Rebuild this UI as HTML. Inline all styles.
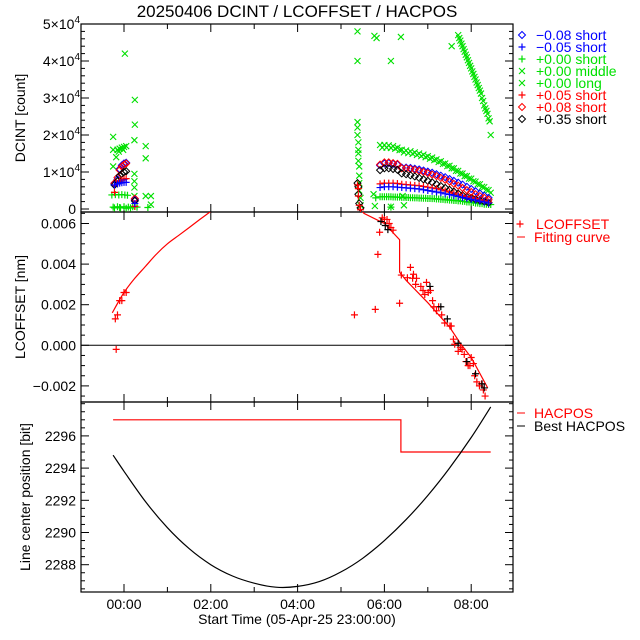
<!DOCTYPE html>
<html><head><meta charset="utf-8">
<style>
html,body{margin:0;padding:0;background:#fff;}
svg{display:block;font-family:"Liberation Sans",sans-serif;}
</style></head>
<body>
<svg id="chart" width="640" height="640" viewBox="0 0 640 640" xmlns="http://www.w3.org/2000/svg">
<defs>
<clipPath id="cTop"><rect x="81" y="24" width="432" height="188"/></clipPath>
<clipPath id="cMid"><rect x="81" y="212" width="432" height="190"/></clipPath>
<clipPath id="cBot"><rect x="81" y="402" width="432" height="190"/></clipPath>
</defs>
<text x="297" y="17" font-size="17" text-anchor="middle">20250406 DCINT / LCOFFSET / HACPOS</text>
<g id="axes"></g>
<g id="marks"></g>
<text x="297" y="624" font-size="14" text-anchor="middle">Start Time (05-Apr-25 23:00:00)</text>
<text transform="translate(25,118) rotate(-90)" font-size="14" text-anchor="middle">DCINT [count]</text>
<text transform="translate(25,307) rotate(-90)" font-size="14" text-anchor="middle">LCOFFSET [nm]</text>
<text transform="translate(30,497) rotate(-90)" font-size="14" text-anchor="middle">Line center position [bit]</text>
<g id="legend" font-size="14"></g>
</svg>
<script>
// ---------- data ----------
const xTickHours = [0,2,4,6,8];
const xTickLabels = ["00:00","02:00","04:00","06:00","08:00"];
const topTicks = [0,10000,20000,30000,40000,50000];
const topTickLabels = ["0","1","2","3","4","5"];
const midTicks = [-0.002,0,0.002,0.004,0.006];
const midTickLabels = ["\u22120.002","0.000","0.002","0.004","0.006"];
const botTicks = [2288,2290,2292,2294,2296];
const botTickLabels = ["2288","2290","2292","2294","2296"];

const bandT = [5.9,6.0,6.1,6.2,6.3,6.4,6.5,6.6,6.7,6.8,6.9,7.0,7.1,7.2,7.3,7.4,7.5,7.6,7.7,7.8,7.9,8.0,8.1,8.2,8.3,8.4];
const greenMiddleV = [17300,17300,17200,17000,16600,16000,15800,15600,15300,15000,14700,14300,13900,13400,12900,12300,11700,11000,10300,9600,8900,8200,7400,6700,5900,5100];
const greenShortV = [3300,3300,3300,3250,3200,3150,3100,3050,3000,2950,2900,2850,2800,2700,2600,2500,2400,2300,2200,2050,1900,1750,1600,1450,1300,1200];
const redDiamondV = [12000,12600,12600,12400,12200,11000,11000,10800,10600,10300,10000,9700,9300,8900,8400,7900,7400,6800,6300,5700,5100,4600,4000,3500,3000,2500];
const blueDiamondV = [11800,12300,12400,12200,12000,11200,11200,11100,10900,10700,10400,10100,9800,9400,9000,8600,8100,7600,7100,6600,6000,5400,4800,4200,3600,3000];
const blackDiamondV = [10500,11000,11000,10800,10600,9600,9400,9100,8800,8400,8000,7600,7200,6700,6200,5700,5200,4700,4200,3700,3300,2900,2600,2300,2000,1700];
const redPlusV = [6800,7000,7000,7000,6900,6700,6600,6500,6400,6300,6100,5900,5700,5500,5200,4900,4600,4300,4000,3700,3400,3100,2800,2500,2200,1900];
const bluePlusV = [5800,6000,6000,6000,5900,5800,5700,5600,5500,5400,5200,5000,4800,4600,4400,4100,3900,3600,3400,3100,2900,2600,2400,2100,1900,1600];

const longT = [7.70,7.75,7.80,7.85,7.90,7.95,8.00,8.05,8.10,8.15,8.20,8.25,8.30,8.35,8.40];
const longV = [47000,45500,44000,42500,41000,39500,38000,36500,35000,33500,32000,30000,28000,26500,24500];

const spikeT = [5.38,5.38,5.38,5.38,5.38,5.40,5.40,5.40,5.40,5.42,5.42,5.42,5.42,5.45,5.45];
const spikeV = [48000,40000,23500,22000,20000,18000,16000,15000,13000,11500,9000,7000,5000,3000,1000];
const greenXOutT = [5.77,5.82,6.38,6.15,7.55,8.45,5.75,5.78,6.15,6.42,6.45,-0.25,0.02,0.25,0.25,0.24,0.5,0.5,0.5,0.62,0.62,-0.25,-0.25,-0.18,0.24,0.24,0.24,0.24,-0.15,-0.1,-0.05,0,0.05,-0.12,-0.02];
const greenXOutV = [46800,46200,46500,40000,44000,20000,4000,800,600,3500,1000,19500,42000,29500,22800,18600,17000,13700,3500,3500,1200,11500,16000,14000,9500,7500,5800,3500,16000,16300,16600,16800,17000,15500,16000];
const greenPlusOutT = [6.15,5.8,-0.28,-0.2,-0.12,-0.05,0.02,0.08,-0.25,-0.1,0,0.1,0.25,0.3,0.55,-0.22,-0.15,-0.08,0.05,0.15,0.2];
const greenPlusOutV = [500,3000,3800,3900,3800,3900,3800,3700,500,400,600,500,700,500,400,300,600,300,200,300,600];
const leftT = [-0.22,-0.15,-0.1,-0.05,0,0.05,0.25];
const leftRedDV = [7000,8500,10500,11500,12000,12300,2800];
const leftBlueDV = [6800,8000,10800,11800,12300,12500,2500];
const leftBlackDV = [6500,7500,9000,9500,10000,10200,2200];
const leftRedPV = [4500,6800,7500,7800,8000,8200,700];
const leftBluePV = [6500,6800,7000,7100,7200,7200,1500];
const spikeDT = [5.38,5.40,5.40,5.42,5.45];
const spikeDV = [7000,6000,4000,1500,300];

const lcT = [-0.2,-0.15,-0.18,-0.1,-0.05,0,0.05,5.31,5.79,5.85,5.89,5.95,6.0,6.06,6.11,6.15,6.2,6.35,6.39,6.53,6.6,6.65,6.67,6.74,6.72,6.84,6.89,6.93,6.97,7.01,7.06,7.11,7.14,7.2,7.25,7.32,7.39,7.51,7.54,7.59,7.62,7.7,7.75,7.79,7.84,7.88,7.93,7.97,8.0,8.05,8.08,8.13,8.19,8.24,8.28,8.32];
const lcV = [0.0013,0.0015,-0.0002,0.0022,0.0022,0.0026,0.0026,0.0015,0.00177,0.00448,0.00557,0.00628,0.0062,0.0062,0.006,0.0058,0.00567,0.00207,0.00346,0.00333,0.00384,0.0033,0.0035,0.0033,0.003,0.0029,0.0027,0.0025,0.0031,0.0026,0.0027,0.0022,0.0019,0.0017,0.0019,0.0015,0.0011,0.00095,0.00095,0.0003,0.00005,-0.0003,-0.0001,-0.0002,-0.00045,-0.0008,-0.001,-0.001,-0.0006,-0.0009,-0.0015,-0.0018,-0.002,-0.0019,-0.0022,-0.0025];
const lcBlackT = [5.92,6.02,6.08,7.05,7.3,7.45,7.7,7.9,8.1,8.25,8.3];
const lcBlackV = [0.0061,0.0059,0.0057,0.0029,0.0019,0.0013,0.0001,-0.0008,-0.0014,-0.0019,-0.0021];
const fitLeftT = [-0.27,0,0.25,0.5,0.75,1,1.25,1.5,1.75,2.0];
const fitLeftV = [0.0016,0.0026,0.0033,0.0039,0.0045,0.0050,0.0054,0.0058,0.0062,0.0066];
const fitRightT = [5.45,5.53,6.0,6.35,6.35,6.5,7.0,7.5,7.78,8.0,8.38];
const fitRightV = [0.0067,0.0065,0.0060,0.0052,0.0036,0.0032,0.0021,0.0009,0.0,-0.0006,-0.0021];

const hacT = [-0.25,6.38,6.38,8.45];
const hacV = [2297,2297,2295,2295];
const bestT = [-0.25,0,0.5,1,1.5,2,2.5,3,3.5,4,4.5,5,5.5,6,6.5,7,7.5,8,8.45];
const bestV = [2294.8,2293.8,2291.9,2290.3,2289.0,2288.0,2287.3,2286.85,2286.6,2286.65,2286.95,2287.55,2288.4,2289.5,2290.8,2292.3,2294.0,2295.9,2297.8];

// ---------- scales ----------
const L=81,R=513;
const X = h => 80.6 + (h+1)*43.4;
const Ytop = v => 209 - v*37/10000;
const Ymid = v => 345.3 - v*20300;
const Ybot = v => 564.7 - (v-2288)*16.1;
const NS="http://www.w3.org/2000/svg";
const axes=document.getElementById('axes'), marks=document.getElementById('marks'), legend=document.getElementById('legend');
function mk(tag,attrs,parent){const e=document.createElementNS(NS,tag);for(const k in attrs)e.setAttribute(k,attrs[k]);parent.appendChild(e);return e;}

// ---------- axes ----------
const panels=[{top:24,bot:212,name:'dcint'},{top:212,bot:402,name:'lcoffset'},{top:402,bot:592,name:'hacpos'}];
panels.forEach(p=>{
  const r=mk('rect',{x:L,y:p.top,width:R-L,height:p.bot-p.top,fill:'none',stroke:'#000','stroke-width':1.2},axes);
  
  
  for(let h=-1;h<=9;h++){
    const x=X(h); if(x<L||x>R) continue;
    const len=(h%2===0)?8:5;
    mk('line',{x1:x,y1:p.bot,x2:x,y2:p.bot-len,stroke:'#000'},axes);
    mk('line',{x1:x,y1:p.top,x2:x,y2:p.top+len,stroke:'#000'},axes);
  }
});
xTickHours.forEach((h,i)=>{
  const t=mk('text',{x:X(h),y:609,'font-size':14,'text-anchor':'middle'},axes);
  t.textContent=xTickLabels[i];
  
  
});
function yTicks(ticks,labels,Y,minorStep,top,bot,name,expo){
  const lo=ticks[0]-minorStep*20, hi=ticks[ticks.length-1]+minorStep*20;
  for(let v=lo; v<=hi+1e-12; v+=minorStep){
    const y=Y(v); if(y<top+1||y>bot-1) continue;
    const major=ticks.some(t=>Math.abs(t-v)<minorStep/10);
    const len=major?8:4;
    mk('line',{x1:L,y1:y,x2:L+len,y2:y,stroke:'#000'},axes);
    mk('line',{x1:R,y1:y,x2:R-len,y2:y,stroke:'#000'},axes);
  }
  ticks.forEach((v,i)=>{
    const y=Y(v);
    const t=mk('text',{x:76,y:y+5,'font-size':14,'text-anchor':'end'},axes);
    if(expo && labels[i]!=="0"){
      t.textContent=labels[i]+"\u00d710";
      const s=mk('tspan',{dy:-6,'font-size':10},t); s.textContent="4";
      t.setAttribute('x',80);
    } else t.textContent=labels[i];
    
    
  });
}
yTicks(topTicks,topTickLabels,Ytop,2000,24,212,'dcint',true);
yTicks(midTicks,midTickLabels,Ymid,0.0005,212,402,'lcoffset',false);
yTicks(botTicks,botTickLabels,Ybot,0.5,402,592,'hacpos',false);
const zl=mk('line',{x1:L,y1:Ymid(0),x2:R,y2:Ymid(0),stroke:'#000'},axes);



// ---------- markers ----------
function marker(type,x,y,color,g){
  if(type==='plus'){
    mk('path',{d:`M${x-3.5},${y}H${x+3.5}M${x},${y-3.5}V${y+3.5}`,stroke:color,'stroke-width':1.2,fill:'none'},g);
  } else if(type==='x'){
    mk('path',{d:`M${x-3},${y-3}L${x+3},${y+3}M${x-3},${y+3}L${x+3},${y-3}`,stroke:color,'stroke-width':1.1,fill:'none'},g);
  } else {
    mk('path',{d:`M${x},${y-3.5}L${x+3.5},${y}L${x},${y+3.5}L${x-3.5},${y}Z`,stroke:color,'stroke-width':1,fill:'none'},g);
  }
}
function series(name,type,color,T,V,Y,clip,parent){
  const g=mk('g',{'clip-path':`url(#${clip})`},parent||marks);
  
  
  T.forEach((t,i)=>marker(type,X(t),Y(V[i]),color,g));
  return g;
}
const G='#00e000';
series('green-middle-series','x',G,bandT,greenMiddleV,Ytop,'cTop');
series('green-middle-series-b','x',G,bandT.map(t=>t+0.05),greenMiddleV.map(v=>v-700),Ytop,'cTop');
series('green-short-series','plus',G,bandT,greenShortV,Ytop,'cTop');
series('green-short-series-b','plus',G,bandT.map(t=>t+0.05),greenShortV,Ytop,'cTop');
series('green-long-series','x',G,longT,longV,Ytop,'cTop');
series('green-long-series-b','x',G,longT.map(t=>t+0.025),longV.map(v=>v-800),Ytop,'cTop');
series('green-spike-series','x',G,spikeT,spikeV,Ytop,'cTop');
series('green-outliers','x',G,greenXOutT,greenXOutV,Ytop,'cTop');
series('green-plus-outliers','plus',G,greenPlusOutT,greenPlusOutV,Ytop,'cTop');
series('blue-diamond-series','diamond','#0000ff',bandT,blueDiamondV,Ytop,'cTop');
series('red-diamond-series','diamond','#ff0000',bandT,redDiamondV,Ytop,'cTop');
series('black-diamond-series','diamond','#000',bandT,blackDiamondV,Ytop,'cTop');
series('red-plus-series','plus','#ff0000',bandT,redPlusV,Ytop,'cTop');
series('blue-plus-series','plus','#0000ff',bandT,bluePlusV,Ytop,'cTop');
series('left-blue-diamond','diamond','#0000ff',leftT,leftBlueDV,Ytop,'cTop');
series('left-red-diamond','diamond','#ff0000',leftT,leftRedDV,Ytop,'cTop');
series('left-black-diamond','diamond','#000',leftT,leftBlackDV,Ytop,'cTop');
series('left-red-plus','plus','#ff0000',leftT,leftRedPV,Ytop,'cTop');
series('left-blue-plus','plus','#0000ff',leftT,leftBluePV,Ytop,'cTop');
series('spike-black-diamond','diamond','#000',spikeDT,spikeDV,Ytop,'cTop');
series('spike-red-plus','plus','#ff0000',spikeDT,spikeDV.map(v=>v-500),Ytop,'cTop');

function line(name,T,V,Y,color,clip,smooth){
  const P=T.map((t,i)=>[X(t),Y(V[i])]);
  let d='M'+P[0][0].toFixed(1)+','+P[0][1].toFixed(1);
  for(let i=1;i<P.length;i++){
    if(smooth){
      const p0=P[Math.max(0,i-2)],p1=P[i-1],p2=P[i],p3=P[Math.min(P.length-1,i+1)];
      const c1=[p1[0]+(p2[0]-p0[0])/6,p1[1]+(p2[1]-p0[1])/6];
      const c2=[p2[0]-(p3[0]-p1[0])/6,p2[1]-(p3[1]-p1[1])/6];
      d+=`C${c1[0].toFixed(1)},${c1[1].toFixed(1)} ${c2[0].toFixed(1)},${c2[1].toFixed(1)} ${p2[0].toFixed(1)},${p2[1].toFixed(1)}`;
    } else d+='L'+P[i][0].toFixed(1)+','+P[i][1].toFixed(1);
  }
  const p=mk('path',{d:d,stroke:color,'stroke-width':1.2,fill:'none','clip-path':`url(#${clip})`},marks);
  
  
}
line('fitting-curve-left',fitLeftT,fitLeftV,Ymid,'#ff0000','cMid',true);
line('fitting-curve-right',fitRightT,fitRightV,Ymid,'#ff0000','cMid',false);
series('lcoffset-points','plus','#ff0000',lcT,lcV,Ymid,'cMid');
series('lcoffset-black-points','plus','#000',lcBlackT,lcBlackV,Ymid,'cMid');
line('hacpos-line',hacT,hacV,Ybot,'#ff0000','cBot',false);
line('best-hacpos-curve',bestT,bestV,Ybot,'#000','cBot',true);

// ---------- legends ----------
const legTop=[['diamond','#0000ff','\u22120.08 short'],['plus','#0000ff','\u22120.05 short'],['plus',G,'+0.00 short'],['x',G,'+0.00 middle'],['x',G,'+0.00 long'],['plus','#ff0000','+0.05 short'],['diamond','#ff0000','+0.08 short'],['diamond','#000','+0.35 short']];
legTop.forEach((e,i)=>{
  const y=35+i*12;
  const g=mk('g',{},legend);
  
  
  marker(e[0],522,y,e[1],g);
  const t=mk('text',{x:536,y:y+5,fill:e[1]},g); t.textContent=e[2];
});
function legLine(y,color,label,sym){
  const g=mk('g',{},legend);
  
  
  if(sym==='plus') marker('plus',520,y,color,g);
  else mk('line',{x1:517,y1:y,x2:525,y2:y,stroke:color},g);
  const t=mk('text',{x:sym==='plus'?536:534,y:y+5,fill:color},g); t.textContent=label;
}
legLine(224,'#ff0000','LCOFFSET','plus');
legLine(237,'#ff0000','Fitting curve','line');
legLine(413,'#ff0000','HACPOS','line');
legLine(426,'#000','Best HACPOS','line');
</script>
</body></html>
